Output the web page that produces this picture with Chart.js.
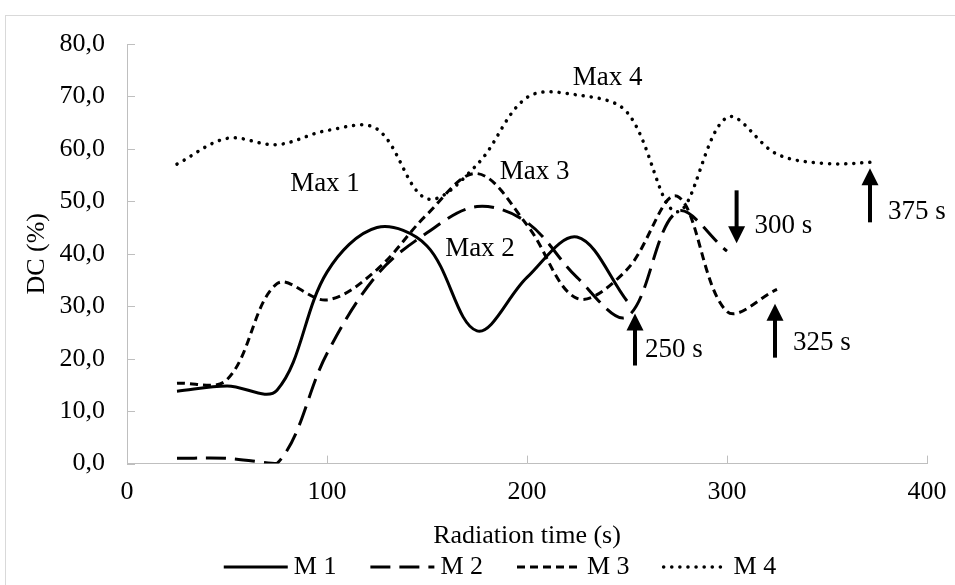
<!DOCTYPE html>
<html>

<head>
	<title>DC chart</title>
	<meta charset="UTF-8">
	<script src="https://cdn.jsdelivr.net/npm/chart.js@4.4.1/dist/chart.umd.min.js"></script>
	<style>
		body { margin: 0; background: #fff; }
	</style>
</head>

<body>
	<canvas id="dcChart" width="955" height="585"></canvas>

	<script>
		// radiation time (s) of every measurement
		var times = [25, 50, 75, 100, 125, 150, 175, 200, 225, 250, 275, 300, 325, 350, 375];

		// DC (%) for each sample
		var m1 = [13.8, 14.8, 14.0, 36.5, 45.0, 41.5, 25.3, 35.5, 43.2, 31.0];
		var m2 = [1.0, 1.0, 0.0, 21.0, 36.0, 44.0, 49.0, 46.0, 35.5, 28.0, 48.0, 40.5];
		var m3 = [15.3, 16.0, 34.3, 31.2, 37.0, 47.5, 55.3, 45.5, 31.5, 37.0, 51.0, 29.0, 33.2];
		var m4 = [57.1, 62.0, 60.8, 63.5, 63.8, 50.5, 57.0, 69.8, 70.3, 67.0, 48.0, 66.0, 59.0, 57.2, 57.5];

		var seriesNames = ["M 1", "M 2", "M 3", "M 4"];
		var xTicks = [0, 100, 200, 300, 400];

		// peak notes: text, time, DC
		var maxNotes = [["Max 1", 99, 53.3], ["Max 2", 176.5, 41.0], ["Max 3", 203.8, 55.6], ["Max 4", 240.3, 73.5]];
		// end-of-run arrows: text, time, tail DC, tip DC, text DC
		var endArrows = [["250 s", 254, 18.7, 28.6, 21.6], ["300 s", 304.8, 52.1, 42.0, 45.4],
			["325 s", 324, 20.2, 30.5, 23.1], ["375 s", 371.5, 46.0, 56.3, 47.9]];

		var FONT = "'Liberation Serif', 'Times New Roman', serif";

		function toPoints(values) {
			var pts = [];
			for (var i = 0; i < values.length; i++) {
				pts.push({ x: times[i], y: values[i] });
			}
			return pts;
		}

		function fmt(v) {
			return v.toFixed(1).replace(".", ",");
		}

		function strokeStyleOf(ctx, ds) {
			ctx.strokeStyle = ds.borderColor;
			ctx.lineWidth = ds.borderWidth;
			ctx.lineCap = ds.borderCapStyle;
			ctx.setLineDash(ds.borderDash);
		}

		// frame, inner tick marks, notes, arrows and the legend
		var extras = {
			id: "extras",
			beforeDraw: function (chart) {
				var ctx = chart.ctx;
				ctx.save();
				ctx.strokeStyle = "#d9d9d9";
				ctx.lineWidth = 1;
				ctx.strokeRect(5.5, 15.5, 970, 600);
				ctx.restore();
			},
			afterDraw: function (chart) {
				var ctx = chart.ctx;
				var xs = chart.scales.x, ys = chart.scales.y;
				ctx.save();
				ctx.strokeStyle = "#bfbfbf";
				ctx.lineWidth = 1;
				ctx.beginPath();
				ys.ticks.forEach(function (t) {
					var py = Math.round(ys.getPixelForValue(t.value)) + 0.5;
					ctx.moveTo(xs.left, py);
					ctx.lineTo(xs.left + 8, py);
				});
				xTicks.forEach(function (v) {
					var px = Math.round(xs.getPixelForValue(v)) + 0.5;
					ctx.moveTo(px, ys.bottom);
					ctx.lineTo(px, ys.bottom - 8);
				});
				ctx.stroke();

				ctx.fillStyle = "#000";
				ctx.font = "27px " + FONT;
				ctx.textBaseline = "middle";
				ctx.textAlign = "center";
				maxNotes.forEach(function (n) {
					ctx.fillText(n[0], xs.getPixelForValue(n[1]), ys.getPixelForValue(n[2]));
				});

				ctx.textAlign = "left";
				endArrows.forEach(function (a, i) {
					var px = xs.getPixelForValue(a[1]);
					var tail = ys.getPixelForValue(a[2]);
					var tip = ys.getPixelForValue(a[3]);
					var dir = tip < tail ? 1 : -1;
					ctx.lineWidth = 4;
					ctx.strokeStyle = "#000";
					ctx.beginPath();
					ctx.moveTo(px, tail);
					ctx.lineTo(px, tip + dir * 12);
					ctx.stroke();
					ctx.beginPath();
					ctx.moveTo(px, tip);
					ctx.lineTo(px - 8.5, tip + dir * 17);
					ctx.lineTo(px + 8.5, tip + dir * 17);
					ctx.closePath();
					ctx.fill();
					ctx.fillText(a[0], px + (i === 0 ? 10 : 18), ys.getPixelForValue(a[4]));
				});

				// legend
				ctx.font = "26px " + FONT;
				var sample = 64, gap = 6, spacing = 34;
				var widths = chart.data.datasets.map(function (ds) {
					return sample + gap + ctx.measureText(ds.label).width;
				});
				var total = widths.reduce(function (s, w) { return s + w; }, 0) + spacing * (widths.length - 1);
				var lx = (xs.left + xs.right) / 2 - 27 - total / 2;
				var ly = 567;
				chart.data.datasets.forEach(function (ds, i) {
					ctx.save();
					strokeStyleOf(ctx, ds);
					ctx.beginPath();
					ctx.moveTo(lx, ly);
					ctx.lineTo(lx + sample, ly);
					ctx.stroke();
					ctx.restore();
					ctx.fillText(ds.label, lx + sample + gap, ly);
					lx += widths[i] + spacing;
				});
				ctx.restore();
			}
		};

		function lineSet(label, values, dash, width, cap) {
			return {
				label: label,
				data: toPoints(values),
				borderColor: "#000",
				backgroundColor: "#000",
				borderWidth: width,
				borderDash: dash,
				borderCapStyle: cap,
				pointRadius: 0,
				fill: false,
				tension: 0.35
			};
		}

		new Chart(document.getElementById("dcChart"), {
			type: "line",
			data: {
				datasets: [
					lineSet(seriesNames[0], m1, [], 3, "butt"),
					lineSet(seriesNames[1], m2, [20, 9], 3, "butt"),
					lineSet(seriesNames[2], m3, [8, 5], 3, "butt"),
					lineSet(seriesNames[3], m4, [0.1, 8], 3.5, "round")
				]
			},
			options: {
				responsive: false,
				animation: false,
				devicePixelRatio: 1,
				layout: { padding: { left: 22, right: 28, top: 44, bottom: 33 } },
				plugins: {
					tooltip: { enabled: false },
					legend: { display: false }
				},
				scales: {
					x: {
						type: "linear",
						min: 0,
						max: 400,
						grid: { display: false, drawTicks: false },
						border: { display: true, color: "#bfbfbf", width: 1 },
						afterBuildTicks: function (scale) {
							scale.ticks = xTicks.map(function (v) { return { value: v }; });
						},
						afterFit: function (scale) {
							scale.paddingLeft = 0;
							scale.paddingRight = 0;
						},
						ticks: { color: "#000", padding: 13, maxRotation: 0, font: { family: FONT, size: 26 } },
						title: { display: true, text: "Radiation time (s)", color: "#000", padding: { top: 0, bottom: 0 }, font: { family: FONT, size: 26 } }
					},
					y: {
						min: 0,
						max: 80,
						grid: { display: false, drawTicks: false },
						border: { display: true, color: "#bfbfbf", width: 1 },
						afterFit: function (scale) {
							scale.width = 105;
						},
						ticks: {
							stepSize: 10,
							color: "#000",
							padding: 22,
							font: { family: FONT, size: 26 },
							callback: function (v) { return fmt(v); }
						},
						title: { display: true, text: "DC (%)", color: "#000", padding: 0, font: { family: FONT, size: 26 } }
					}
				}
			},
			plugins: [extras]
		});
	</script>

</body>

</html>
